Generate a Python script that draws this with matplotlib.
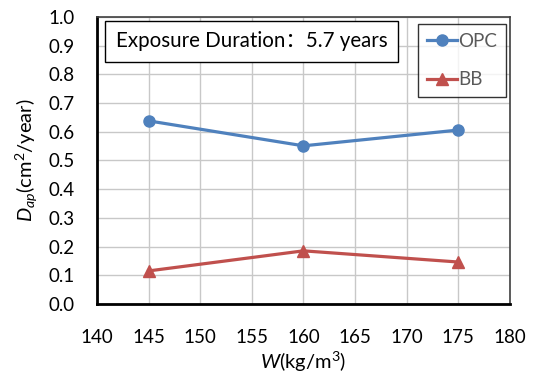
import matplotlib.pyplot as plt

plt.rcParams['font.family'] = ['Lato', 'Noto Sans CJK SC', 'DejaVu Sans']
plt.rcParams['mathtext.fontset'] = 'custom'
plt.rcParams['mathtext.rm'] = 'Lato'
plt.rcParams['mathtext.it'] = 'Lato:italic'

w = [145, 160, 175]
opc = [0.638, 0.551, 0.606]
bb = [0.115, 0.185, 0.146]

fig = plt.figure(figsize=(5.39, 3.78), dpi=100)
ax = fig.add_axes([0.18, 0.196, 0.766, 0.759])

ax.plot(w, opc, color='#4F81BD', lw=2.3, marker='o', ms=8, label='OPC')
ax.plot(w, bb, color='#C0504D', lw=2.3, marker='^', ms=8, label='BB')

ax.set_xlim(140, 180)
ax.set_ylim(0, 1.0)
ax.set_xticks(range(140, 181, 5))
ax.set_yticks([i / 10 for i in range(11)])
ax.set_yticklabels([f'{i / 10:.1f}' for i in range(11)])
ax.grid(True, color='#c8c8c8', lw=1)
ax.set_axisbelow(True)
ax.tick_params(length=0, labelsize=13.5, pad=16)
ax.tick_params(axis='x', pad=18)
for s in ax.spines.values():
    s.set_color('#404040')
    s.set_linewidth(1.2)
ax.spines['left'].set_linewidth(2)
ax.spines['bottom'].set_linewidth(2)
ax.spines['left'].set_color('black')
ax.spines['bottom'].set_color('black')

ax.set_xlabel(r'$W$(kg/m$^3$)', fontsize=14.5, labelpad=3)
ax.set_ylabel(r'$D_{ap}$(cm$^2$/year)', fontsize=14.5, labelpad=6)

ax.text(0.045, 0.915, 'Exposure Duration：5.7 years', transform=ax.transAxes,
        fontsize=14.8, va='center', ha='left',
        bbox=dict(boxstyle='square,pad=0.5', fc='white', ec='black', lw=1))

leg = ax.legend(loc='upper right', bbox_to_anchor=(0.99, 0.975), fancybox=False,
                edgecolor='black', fontsize=13.5, handlelength=1.6, handletextpad=0.1,
                labelspacing=1.15, borderpad=0.45, borderaxespad=0)
leg.get_frame().set_linewidth(1)
for t in leg.get_texts():
    t.set_color('#595959')

plt.savefig('out.png')
